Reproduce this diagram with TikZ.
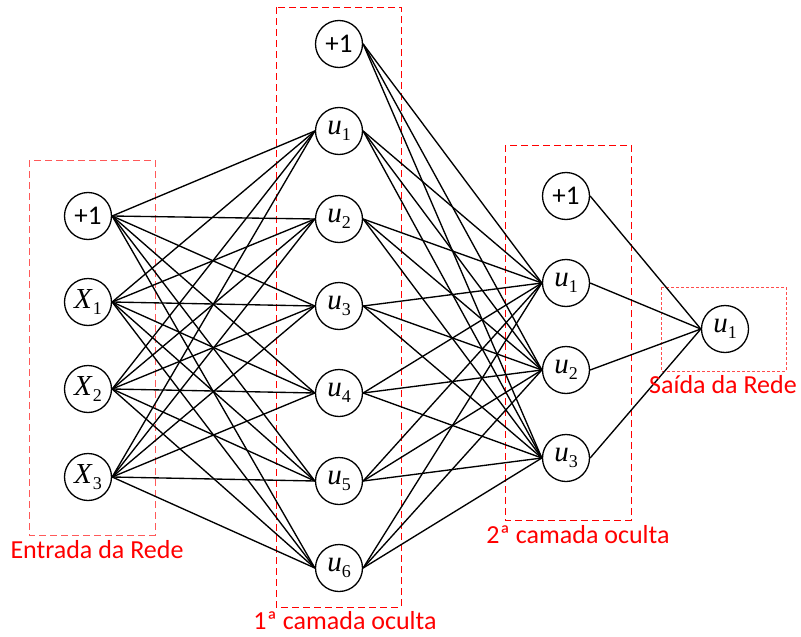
\documentclass[tikz,border=0pt]{standalone}
\usepackage{fontspec}
\setmainfont{Liberation Serif}
\newfontfamily\calibri{Carlito}
\newcommand{\nsub}[1]{\raisebox{-0.45ex}{\fontsize{18}{18}\selectfont #1}}
\begin{document}
\begin{tikzpicture}[x=1pt,y=-1pt,
  neuron/.style={circle,draw,line width=1.3pt,minimum size=47pt,inner sep=0pt,font=\fontsize{29}{29}\selectfont},
  bias/.style={font=\calibri\fontsize{27}{27}\selectfont},
  edge/.style={line width=1.35pt},
  layerbox/.style={draw=red,line width=1pt,dash pattern=on 7pt off 4pt},
  softbox/.style={draw=red!65,line width=1pt,dash pattern=on 7pt off 4pt},
  dotbox/.style={draw=red!70,line width=0.9pt,dash pattern=on 3pt off 2pt},
  lbl/.style={text=red,font=\calibri\fontsize{26}{26}\selectfont}]
\useasboundingbox (0,0) rectangle (801,637);

% boxes
\draw[softbox] (29,160) rectangle (155,535);
\draw[layerbox] (276,7) rectangle (401,607);
\draw[layerbox] (505,145) rectangle (631,520);
\draw[dotbox] (661,287) rectangle (786,371);

% input layer
\node[neuron,bias] (ib) at (88,216) {+1};
\node[neuron] (x1) at (88,302) {\textit{X}\nsub{1}};
\node[neuron] (x2) at (88,389) {\textit{X}\nsub{2}};
\node[neuron] (x3) at (88,477) {\textit{X}\nsub{3}};

% hidden layer 1
\node[neuron,bias] (hb) at (339,44) {+1};
\node[neuron] (h1) at (339,131) {\textit{u}\nsub{1}};
\node[neuron] (h2) at (339,219) {\textit{u}\nsub{2}};
\node[neuron] (h3) at (339,306) {\textit{u}\nsub{3}};
\node[neuron] (h4) at (339,393) {\textit{u}\nsub{4}};
\node[neuron] (h5) at (339,481) {\textit{u}\nsub{5}};
\node[neuron] (h6) at (339,568) {\textit{u}\nsub{6}};

% hidden layer 2
\node[neuron,bias] (gb) at (566,196) {+1};
\node[neuron] (g1) at (566,283) {\textit{u}\nsub{1}};
\node[neuron] (g2) at (566,370) {\textit{u}\nsub{2}};
\node[neuron] (g3) at (566,458) {\textit{u}\nsub{3}};

% output
\node[neuron] (o1) at (725,329) {\textit{u}\nsub{1}};

% edges
\foreach \s in {ib,x1,x2,x3}
  \foreach \t in {h1,h2,h3,h4,h5,h6}
    \draw[edge] (\s.east) -- (\t.west);
\foreach \s in {hb,h1,h2,h3,h4,h5,h6}
  \foreach \t in {g1,g2,g3}
    \draw[edge] (\s.east) -- (\t.west);
\foreach \s in {gb,g1,g2,g3}
  \draw[edge] (\s.east) -- (o1.west);

% labels
\node[lbl] (lin) at (97,550) {Entrada da Rede};
\node[lbl] (lh1) at (345,621) {1ª camada oculta};
\node[lbl] (lh2) at (578,535) {2ª camada oculta};
\node[lbl] (lout) at (723,385) {Saída da Rede};
\end{tikzpicture}
\end{document}
